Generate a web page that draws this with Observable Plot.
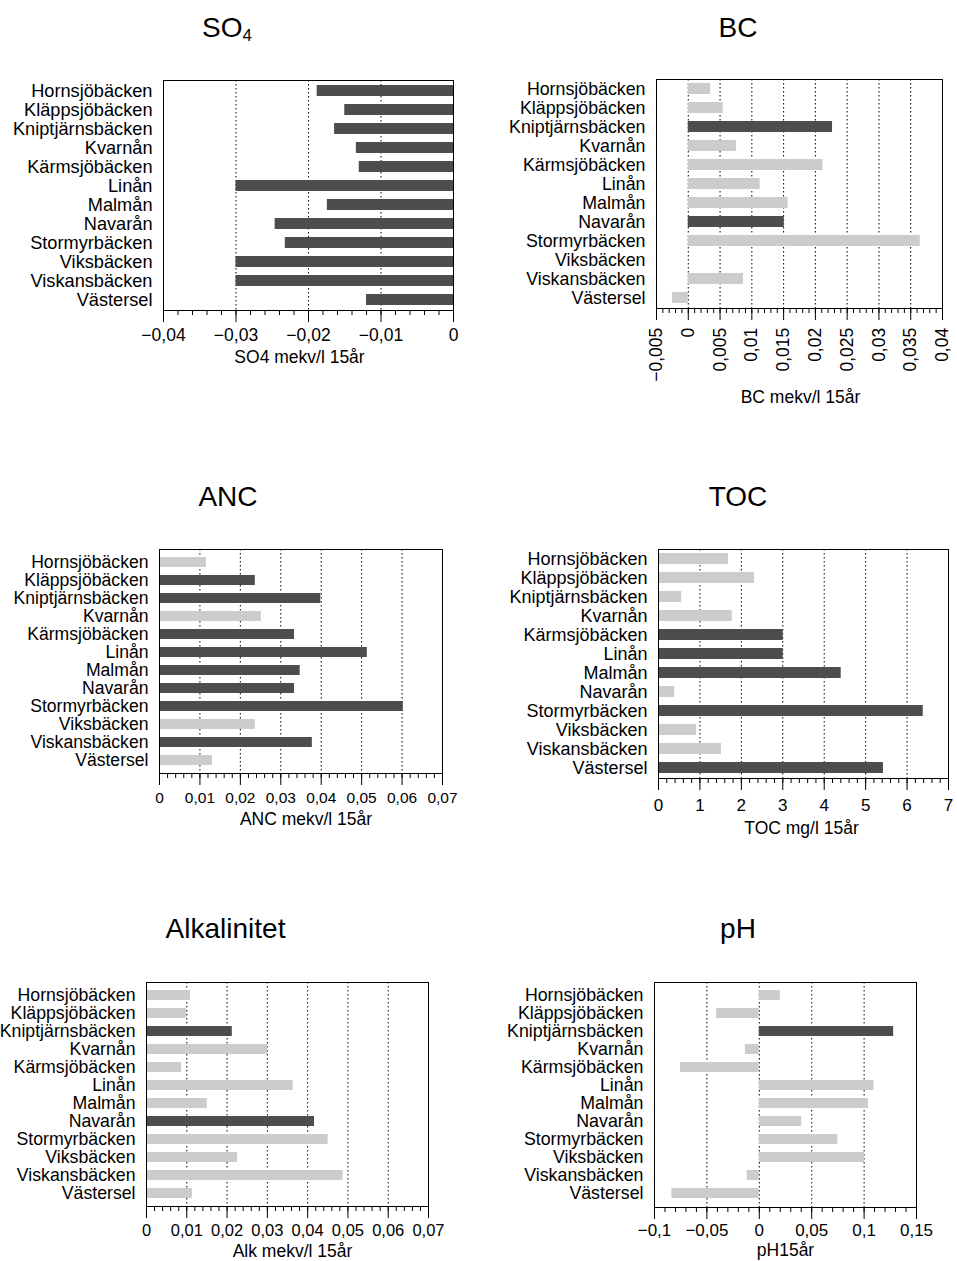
<!DOCTYPE html>
<html>
<head>
<meta charset="utf-8">
<script src="https://cdn.jsdelivr.net/npm/d3@7"></script>
<script src="https://cdn.jsdelivr.net/npm/@observablehq/plot@0.6"></script>
<style>
  html, body { margin: 0; padding: 0; background: #fff; }
  #root { position: relative; width: 957px; height: 1261px; overflow: hidden; background: #fff;
          font-family: "Liberation Sans", Arial, Helvetica, sans-serif; color: #000; }
  .panel { position: absolute; }
  .title { position: absolute; transform: translateX(-50%); white-space: nowrap;
           font-size: 28px; line-height: 28px; }
  .title sub { font-size: 17px; vertical-align: -3.5px; line-height: 0; }
</style>
</head>
<body>
<div id="root"></div>
<script>
// ---------- data ----------
const names = ["Hornsjöbäcken","Kläppsjöbäcken","Kniptjärnsbäcken","Kvarnån","Kärmsjöbäcken","Linån",
  "Malmån","Navarån","Stormyrbäcken","Viksbäcken","Viskansbäcken","Västersel"];

const so4Values = [-0.0188,-0.0150,-0.0164,-0.0134,-0.0130,-0.0300,-0.0174,-0.0246,-0.0232,-0.0300,-0.0300,-0.0120];
const so4Sig    = [1,1,1,1,1,1,1,1,1,1,1,1];
const so4Ticks  = [-0.04,-0.03,-0.02,-0.01,0];
const so4TickLabels = ["−0,04","−0,03","−0,02","−0,01","0"];

const bcValues = [0.0035,0.0055,0.0227,0.0076,0.0212,0.0113,0.0157,0.0151,0.0365,null,0.0087,-0.0025];
const bcSig    = [0,0,1,0,0,0,0,1,0,0,0,0];
const bcTicks  = [-0.005,0,0.005,0.01,0.015,0.02,0.025,0.03,0.035,0.04];
const bcTickLabels = ["−0,005","0","0,005","0,01","0,015","0,02","0,025","0,03","0,035","0,04"];

const ancValues = [0.0116,0.0237,0.0399,0.0252,0.0334,0.0514,0.0348,0.0334,0.0603,0.0237,0.0378,0.0131];
const ancSig    = [0,1,1,0,1,1,1,1,1,0,1,0];
const ancTicks  = [0,0.01,0.02,0.03,0.04,0.05,0.06,0.07];
const ancTickLabels = ["0","0,01","0,02","0,03","0,04","0,05","0,06","0,07"];

const tocValues = [1.69,2.32,0.56,1.78,3.01,3.01,4.41,0.39,6.39,0.92,1.52,5.43];
const tocSig    = [0,0,0,0,1,1,1,0,1,0,0,1];
const tocTicks  = [0,1,2,3,4,5,6,7];
const tocTickLabels = ["0","1","2","3","4","5","6","7"];

const alkValues = [0.0109,0.0099,0.0213,0.0301,0.0087,0.0364,0.0151,0.0417,0.0451,0.0226,0.0488,0.0114];
const alkSig    = [0,0,1,0,0,0,0,1,0,0,0,0];
const alkTicks  = [0,0.01,0.02,0.03,0.04,0.05,0.06,0.07];
const alkTickLabels = ["0","0,01","0,02","0,03","0,04","0,05","0,06","0,07"];

const phValues = [0.0200,-0.0407,0.1282,-0.0133,-0.0752,0.1094,0.1041,0.0404,0.0749,0.1005,-0.0115,-0.0834];
const phSig    = [0,0,1,0,0,0,0,0,0,0,0,0];
const phTicks  = [-0.1,-0.05,0,0.05,0.1,0.15];
const phTickLabels = ["−0,1","−0,05","0","0,05","0,1","0,15"];

// ---------- styling / layout ----------
const FONT = "Liberation Sans, Arial, Helvetica, sans-serif";
const DARK = "#4d4d4d";
const LIGHT = "#cccccc";

const panels = [
  {title: "SO<sub>4</sub>", tx: 227, tb: 37.5, values: so4Values, sig: so4Sig, ticks: so4Ticks, labels: so4TickLabels,
   minor: 0.002, xLabel: "SO4 mekv/l 15år", left: 0, top: 60, width: 480, height: 310,
   mL: 163, mR: 27, mT: 20, mB: 60, yFont: 18.2, tickFont: 17.5, tickDy: 18, labDy: 52.7, labDx: -9},
  {title: "BC", tx: 738, tb: 37.5, values: bcValues, sig: bcSig, ticks: bcTicks, labels: bcTickLabels,
   minor: 0.001, xLabel: "BC mekv/l 15år", left: 480, top: 60, width: 477, height: 350,
   mL: 176, mR: 15, mT: 19, mB: 102, yFont: 17.8, tickFont: 17.5, tickDy: 19.3, labDy: 94, labDx: 1, rotate: true},
  {title: "ANC", tx: 228, tb: 507, values: ancValues, sig: ancSig, ticks: ancTicks, labels: ancTickLabels,
   minor: 0.002, xLabel: "ANC mekv/l 15år", left: 0, top: 530, width: 480, height: 320,
   mL: 159, mR: 38, mT: 19, mB: 77, yFont: 17.6, tickFont: 15.5, tickDy: 18.2, labDy: 51.7, labDx: 5},
  {title: "TOC", tx: 738, tb: 507, values: tocValues, sig: tocSig, ticks: tocTicks, labels: tocTickLabels,
   minor: 0.2, xLabel: "TOC mg/l 15år", left: 480, top: 530, width: 477, height: 320,
   mL: 178, mR: 9, mT: 19, mB: 72, yFont: 18, tickFont: 17, tickDy: 20, labDy: 55, labDx: -2},
  {title: "Alkalinitet", tx: 225.5, tb: 939, values: alkValues, sig: alkSig, ticks: alkTicks, labels: alkTickLabels,
   minor: 0.002, xLabel: "Alk mekv/l 15år", left: 0, top: 960, width: 480, height: 301,
   mL: 146, mR: 52, mT: 22, mB: 55, yFont: 17.7, tickFont: 16.5, tickDy: 17.3, labDy: 50.7, labDx: 5},
  {title: "pH", tx: 738, tb: 939, values: phValues, sig: phSig, ticks: phTicks, labels: phTickLabels,
   minor: 0.01, xLabel: "pH15år", left: 480, top: 960, width: 477, height: 301,
   mL: 174, mR: 41, mT: 22, mB: 54, yFont: 17.8, tickFont: 17, tickDy: 16, labDy: 48, labDx: 0}
];

const root = document.getElementById("root");

for (const p of panels) {
  const data = names.map((n, i) => ({name: n, value: p.values[i], sig: p.sig[i] ? "dark" : "light"}))
                    .filter(d => d.value != null);
  const lo = p.ticks[0], hi = p.ticks[p.ticks.length - 1];
  const nMinor = Math.round((hi - lo) / p.minor);
  const minorTicks = d3.range(nMinor + 1).map(i => +(lo + i * p.minor).toFixed(6));

  const tickText = p.rotate
    ? Plot.text(p.ticks, {x: d => d, text: (d, i) => p.labels[i], frameAnchor: "bottom",
        dy: p.tickDy, rotate: -90, textAnchor: "end", lineAnchor: "middle", fontSize: p.tickFont, fill: "black"})
    : Plot.text(p.ticks, {x: d => d, text: (d, i) => p.labels[i], frameAnchor: "bottom",
        dy: p.tickDy, lineAnchor: "top", textAnchor: "middle", fontSize: p.tickFont, fill: "black"});

  const chart = Plot.plot({
    width: p.width, height: p.height,
    marginLeft: p.mL, marginRight: p.mR, marginTop: p.mT, marginBottom: p.mB,
    style: {fontFamily: FONT, fontSize: p.yFont + "px", color: "black", background: "white", overflow: "visible"},
    x: {domain: [lo, hi], label: null},
    y: {domain: names, paddingInner: 0.42, paddingOuter: 0.22, label: null},
    color: {domain: ["light", "dark"], range: [LIGHT, DARK]},
    marks: [
      Plot.gridX({ticks: p.ticks, stroke: "black", strokeOpacity: 1, strokeWidth: 1, strokeDasharray: "1.5,2.5"}),
      Plot.barX(data, {x: "value", y: "name", fill: "sig"}),
      Plot.axisY({tickSize: 0, tickPadding: 11, fontSize: p.yFont, label: null, fill: "black"}),
      Plot.axisX({ticks: p.ticks, tickSize: 12, tickFormat: () => "", label: null, stroke: "black"}),
      Plot.axisX({ticks: minorTicks, tickSize: 5, tickFormat: () => "", label: null, stroke: "black"}),
      tickText,
      Plot.text([p.xLabel], {frameAnchor: "bottom", dy: p.labDy, dx: p.labDx, lineAnchor: "bottom",
        textAnchor: "middle", fontSize: 17.5, fill: "black"}),
      Plot.frame({stroke: "black", strokeWidth: 1})
    ]
  });
  const wrap = document.createElement("div");
  wrap.className = "panel";
  wrap.style.left = p.left + "px";
  wrap.style.top = p.top + "px";
  wrap.appendChild(chart);
  root.appendChild(wrap);

  const t = document.createElement("div");
  t.className = "title";
  t.innerHTML = p.title;
  t.style.left = p.tx + "px";
  t.style.top = (p.tb - 0.8465 * 28) + "px";
  root.appendChild(t);
}
</script>
</body>
</html>
